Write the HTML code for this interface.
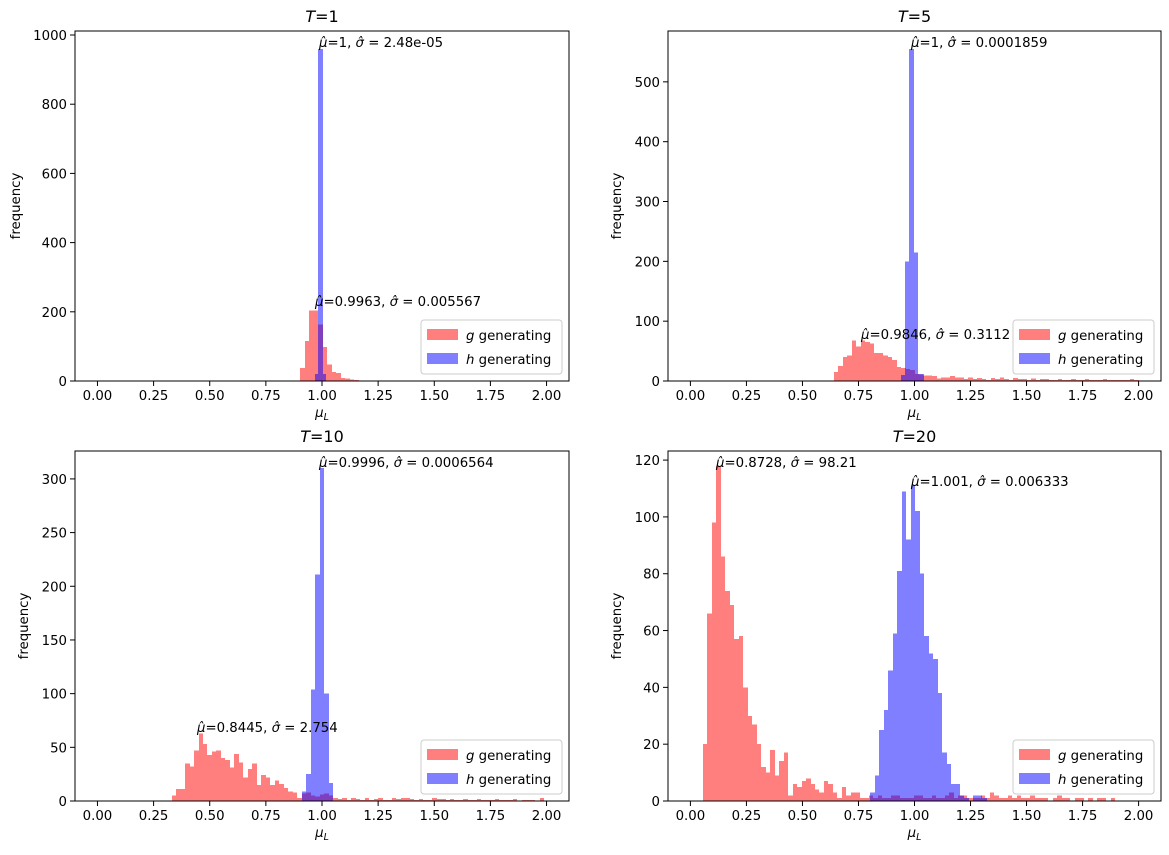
<!DOCTYPE html>
<html><head><meta charset="utf-8"><style>
html,body{margin:0;padding:0;background:#fff;}
svg{display:block;font-family:"DejaVu Sans","Liberation Sans",sans-serif;}
</style></head><body>
<svg id="s" width="1169" height="855" xmlns="http://www.w3.org/2000/svg"></svg>
<script>
const S=document.getElementById('s');let out='';
function panel(c){
 const {x0,y0,w,h,ymax,yt}=c;
 const xs=d=>x0+(d+0.1)/2.2*w, ys=v=>y0+h-v/ymax*h;
 let g='';
 const bars=(start,arr,col,wid)=>{const bwd=(wid||0.02);arr.forEach((v,i)=>{if(v>0){const xa=Math.round(xs(start+i*bwd)),xb=Math.round(xs(start+(i+1)*bwd)),y=ys(v);g+=`<rect shape-rendering="crispEdges" x="${xa}" y="${y.toFixed(2)}" width="${xb-xa}" height="${(y0+h-y).toFixed(2)}" fill="${col}" fill-opacity="0.5"/>`;}});};
 c.red.forEach(r=>bars(r[0],r[1],'#ff0000',r[2]));
 c.blue.forEach(r=>bars(r[0],r[1],'#0000ff',r[2]));
 c.ann.forEach(a=>{g+=`<text x="${a[0]}" y="${a[1]}" font-size="13.3"><tspan font-style="italic">μ̂</tspan>=${a[2]}, <tspan font-style="italic">σ̂</tspan> = ${a[3]}</text>`;});
 g+=`<rect x="${x0}" y="${y0}" width="${w}" height="${h}" fill="none" stroke="#000" stroke-width="1"/>`;
 for(let i=0;i<=8;i++){const d=i*0.25,x=xs(d);g+=`<line x1="${x}" y1="${y0+h}" x2="${x}" y2="${y0+h+5}" stroke="#000"/><text x="${x}" y="${y0+h+19}" font-size="13.3" text-anchor="middle">${d.toFixed(2)}</text>`;}
 yt.forEach(v=>{const y=ys(v);g+=`<line x1="${x0-5}" y1="${y}" x2="${x0}" y2="${y}" stroke="#000"/><text x="${x0-8}" y="${y+5}" font-size="13.3" text-anchor="end">${v}</text>`;});
 g+=`<text x="${x0+w/2}" y="${y0+h+36}" font-size="13.3" text-anchor="middle"><tspan font-style="italic">μ</tspan><tspan font-size="9.5" font-style="italic" dy="3">L</tspan></text>`;
 g+=`<text transform="translate(${c.ylx},${y0+h/2}) rotate(-90)" font-size="13.3" text-anchor="middle">frequency</text>`;
 g+=`<text x="${x0+w/2}" y="${y0-9}" font-size="16" text-anchor="middle"><tspan font-style="italic">T</tspan>=${c.title}</text>`;
 const lx=x0+w-148, ly=y0+h-61;
 g+=`<rect x="${lx}" y="${ly}" width="141" height="54" rx="3" fill="#fff" fill-opacity="0.8" stroke="#ccc"/>`;
 g+=`<rect x="${lx+6}" y="${ly+9}" width="31" height="11" fill="#ff0000" fill-opacity="0.5"/><text x="${lx+45}" y="${ly+20}" font-size="13.3"><tspan font-style="italic">g</tspan> generating</text>`;
 g+=`<rect x="${lx+6}" y="${ly+33}" width="31" height="11" fill="#0000ff" fill-opacity="0.5"/><text x="${lx+45}" y="${ly+44}" font-size="13.3"><tspan font-style="italic">h</tspan> generating</text>`;
 out+=g;
}
panel({x0:75,y0:31,w:494,h:350,ymax:1011.6,yt:[0,200,400,600,800,1000],ylx:20,title:'1',
 red:[[0.884,[2,37,115,204,204,163,99,48,26,23,9,7,4,3,2,2,2,2,2,2,2,0,2,0,0,2,0,2,2,0,0,0,0,0,0,0,2,0,0,0,0,0,0,0,0,0,0,0,0,0,0,0,0,0,0,0,0,2,0,0,0,0,0,0,0,0,0,0,0,0,0,0,0,0,0,0,0,0,0,0,0,0,0,0,0,0,2]]],
 blue:[[0.97,[20],0.013],[0.983,[960],0.021],[1.004,[20],0.013]],
 ann:[[319,47,'1','2.48e-05'],[315,306,'0.9963','0.005567']]});
panel({x0:668,y0:31,w:493,h:350,ymax:585,yt:[0,100,200,300,400,500],ylx:621,title:'5',
 red:[[0.62,[1,15,25,40,43,68,58,68,65,63,47,47,43,40,35,23,22,20,18,12,11,9,9,8,4,6,6,8,6,6,3,6,3,5,3,2,5,3,6,3,2,5,3,3,2,4,2,3,3,2,2,3,2,2,3,2,2,3,2,2,2,3,2,2,2,2,2,3,2]]],
 blue:[[0.94,[10],0.018],[0.958,[200,555,215],0.0195],[1.0165,[12],0.025]],
 ann:[[911,47,'1','0.0001859'],[861,339,'0.9846','0.3112']]});
panel({x0:75,y0:451,w:494,h:350,ymax:326,yt:[0,50,100,150,200,250,300],ylx:28,title:'10',
 red:[[0.33,[5,11,11,35,32,47,63,53,43,46,47,40,38,31,44,36,22,30,35,15,24,22,15,19,16,12,9,8,3,7,8,5,4,6,7,5,3,2,3,1,3,2,1,3,1,2,3,1,1,3,2,3,3,2,1,2,1,1,3,2,2,1,2,1,1,2,1,1,2,1,1,1,2,1,1,1,2,0,1,1,1,0,3]]],
 blue:[[0.91,[9,25,104,211,310,100,17]]],
 ann:[[319,467,'0.9996','0.0006564'],[197,732,'0.8445','2.754']]});
panel({x0:668,y0:451,w:493,h:350,ymax:123.2,yt:[0,20,40,60,80,100,120],ylx:621,title:'20',
 red:[[0.056,[20,66,98,118,86,74,69,57,58,40,30,27,20,12,10,18,9,14,17,2,6,5,7,8,6,4,3,7,6,3,1,5,2,3,3,1,1,2,1,2,1,1,2,2,1,1,1,2,2,1,1,2,1,1,2,3,1,2,2,1,1,1,2,1,3,2,1,1,2,1,2,1,1,2,1,1,1,0,1,2,1,1,0,1,1,0,1,0,1,1,0,1]]],
 blue:[[0.803,[3,9,25,32,46,59,81,109,92,111,102,80,58,52,50,38,17,13,6,6,2,1,0,2,2,1]]],
 ann:[[716,467,'0.8728','98.21'],[911,486,'1.001','0.006333']]});
S.innerHTML=out;
</script>
</body></html>
